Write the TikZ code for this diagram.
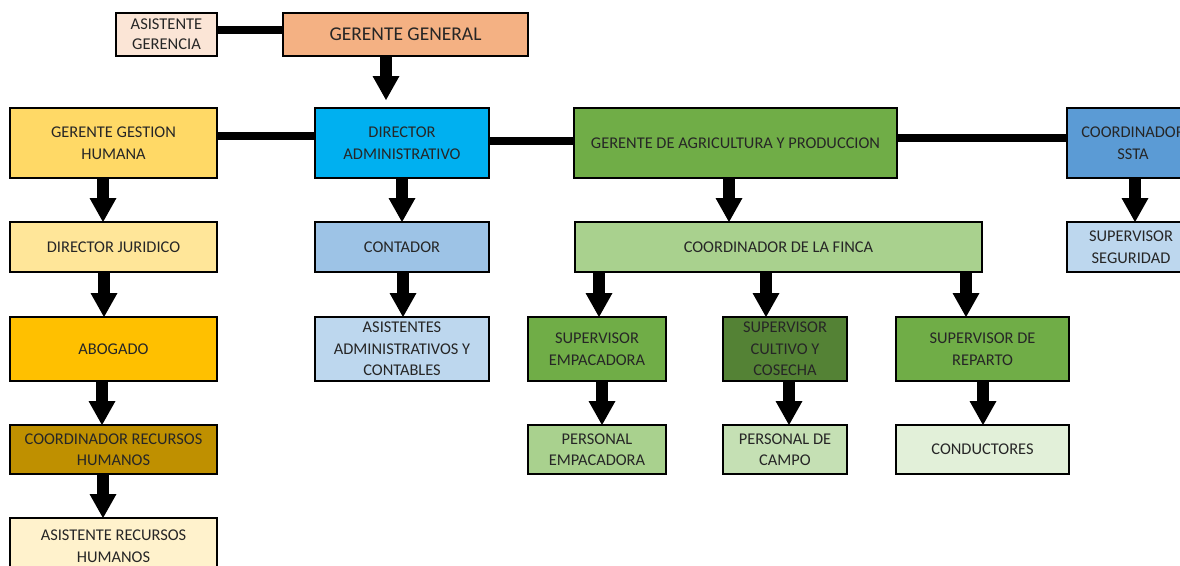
\documentclass[tikz,border=0pt]{standalone}
\usepackage{fontspec}
\setmainfont{Carlito}
\usetikzlibrary{arrows.meta}
\definecolor{txt}{HTML}{262626}
\definecolor{cAG}{HTML}{FBE5D6}
\definecolor{cGG}{HTML}{F4B183}
\definecolor{cGGH}{HTML}{FFD966}
\definecolor{cDA}{HTML}{00B0F0}
\definecolor{cGAP}{HTML}{70AD47}
\definecolor{cSSTA}{HTML}{5B9BD5}
\definecolor{cDJ}{HTML}{FFE699}
\definecolor{cCONT}{HTML}{9DC3E6}
\definecolor{cCF}{HTML}{A9D18E}
\definecolor{cSS}{HTML}{BDD7EE}
\definecolor{cAB}{HTML}{FFC000}
\definecolor{cAA}{HTML}{BDD7EE}
\definecolor{cSUP}{HTML}{70AD47}
\definecolor{cSC}{HTML}{548235}
\definecolor{cCRH}{HTML}{BF9000}
\definecolor{cPE}{HTML}{A9D18E}
\definecolor{cPC}{HTML}{C5E0B4}
\definecolor{cCO}{HTML}{E2F0D9}
\definecolor{cARH}{HTML}{FFF2CC}
\begin{document}
\begin{tikzpicture}[x=1pt,y=-1pt,
  box/.style={draw=black, line width=2.2pt, inner sep=0pt, outer sep=0pt,
    align=center, text=txt, font=\fontsize{16.4}{21.5}\selectfont},
  conn/.style={line width=7.5pt, draw=black},
  arr/.style={line width=12pt, draw=black,
    -{Triangle[width=27pt,length=24pt,line width=0pt]}},
]
\useasboundingbox (0,0) rectangle (1180,565);
\clip (0,0) rectangle (1180,565);

% row 1
\node[box, fill=cAG, minimum width=101pt, minimum height=43pt,
  font=\fontsize{16.5}{20}\selectfont] (ag) at (166.5,34.5) {ASISTENTE\\GERENCIA};
\node[box, fill=cGG, minimum width=245pt, minimum height=43pt,
  font=\fontsize{19.5}{22}\selectfont] (gg) at (405.5,34.5) {GERENTE GENERAL};

% row 2
\node[box, fill=cGGH, minimum width=207pt, minimum height=70pt] (ggh) at (113.5,143) {GERENTE GESTION\\HUMANA};
\node[box, fill=cDA, minimum width=174pt, minimum height=70pt] (da) at (402,143) {DIRECTOR\\ADMINISTRATIVO};
\node[box, fill=cGAP, minimum width=323pt, minimum height=70pt] (gap) at (735.5,143) {GERENTE DE AGRICULTURA Y PRODUCCION};
\node[box, fill=cSSTA, minimum width=132pt, minimum height=70pt] (ssta) at (1133,143) {COORDINADOR\\SSTA};

% row 3
\node[box, fill=cDJ, minimum width=207pt, minimum height=50pt] (dj) at (113.5,247) {DIRECTOR JURIDICO};
\node[box, fill=cCONT, minimum width=174pt, minimum height=50pt] (cont) at (402,247) {CONTADOR};
\node[box, fill=cCF, minimum width=407pt, minimum height=50pt] (cf) at (778.5,247) {COORDINADOR DE LA FINCA};
\node[box, fill=cSS, minimum width=128pt, minimum height=50pt] (ss) at (1131,247) {SUPERVISOR\\SEGURIDAD};

% row 4
\node[box, fill=cAB, minimum width=207pt, minimum height=64pt] (ab) at (113.5,349) {ABOGADO};
\node[box, fill=cAA, minimum width=174pt, minimum height=64pt] (aa) at (402,349) {ASISTENTES\\ADMINISTRATIVOS Y\\CONTABLES};
\node[box, fill=cSUP, minimum width=138pt, minimum height=64pt] (se) at (597,349) {SUPERVISOR\\EMPACADORA};
\node[box, fill=cSC, minimum width=124pt, minimum height=64pt] (sc) at (785,349) {SUPERVISOR\\CULTIVO Y\\COSECHA};
\node[box, fill=cSUP, minimum width=173pt, minimum height=64pt] (sr) at (982.5,349) {SUPERVISOR DE\\REPARTO};

% row 5
\node[box, fill=cCRH, minimum width=207pt, minimum height=49pt] (crh) at (113.5,449.5) {COORDINADOR RECURSOS\\HUMANOS};
\node[box, fill=cPE, minimum width=138pt, minimum height=49pt] (pe) at (597,449.5) {PERSONAL\\EMPACADORA};
\node[box, fill=cPC, minimum width=124pt, minimum height=49pt] (pc) at (785,449.5) {PERSONAL DE\\CAMPO};
\node[box, fill=cCO, minimum width=173pt, minimum height=49pt] (co) at (982.5,449.5) {CONDUCTORES};

% row 6
\node[box, fill=cARH, minimum width=207pt, minimum height=56pt] (arh) at (113.5,546) {ASISTENTE RECURSOS\\HUMANOS};

% horizontal connectors
\draw[conn] (ag.east |- 0,30) -- (gg.west |- 0,30);
\draw[conn] (ggh.east |- 0,136) -- (da.west |- 0,136);
\draw[conn] (da.east |- 0,141) -- (gap.west |- 0,141);
\draw[conn] (gap.east |- 0,138) -- (ssta.west |- 0,138);

% arrows
\draw[arr] (gg.south -| 386,0) -- (386,100);
\draw[arr] (ggh.south -| 103,0) -- (dj.north -| 103,0);
\draw[arr] (dj.south -| 104,0) -- (ab.north -| 104,0);
\draw[arr] (ab.south -| 102,0) -- (crh.north -| 102,0);
\draw[arr] (crh.south -| 103,0) -- (arh.north -| 103,0);
\draw[arr] (da.south -| 402,0) -- (cont.north -| 402,0);
\draw[arr] (cont.south -| 403,0) -- (aa.north -| 403,0);
\draw[arr] (gap.south -| 729,0) -- (cf.north -| 729,0);
\draw[arr] (cf.south -| 599,0) -- (se.north -| 599,0);
\draw[arr] (cf.south -| 766,0) -- (sc.north -| 766,0);
\draw[arr] (cf.south -| 966,0) -- (sr.north -| 966,0);
\draw[arr] (se.south -| 602,0) -- (pe.north -| 602,0);
\draw[arr] (sc.south -| 789,0) -- (pc.north -| 789,0);
\draw[arr] (sr.south -| 983,0) -- (co.north -| 983,0);
\draw[arr] (ssta.south -| 1135,0) -- (ss.north -| 1135,0);
\end{tikzpicture}
\end{document}
